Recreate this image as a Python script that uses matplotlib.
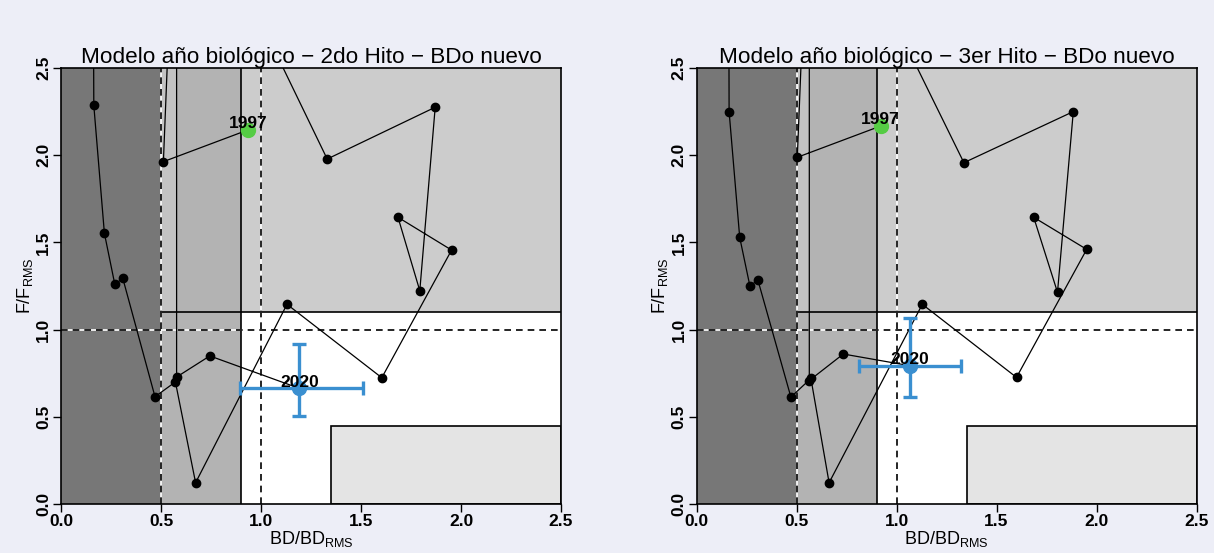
import numpy as np
import matplotlib.pyplot as plt
from matplotlib.patches import Rectangle

plt.rcParams['font.family'] = ['Liberation Sans', 'DejaVu Sans']
plt.rcParams['mathtext.fontset'] = 'custom'
plt.rcParams['mathtext.rm'] = 'Liberation Sans'

titles = ["Modelo año biológico − 2do Hito − BDo nuevo",
          "Modelo año biológico − 3er Hito − BDo nuevo"]

# trayectoria BD/BDrms y F/Frms (1997 -> 2020); valores > 2.5 quedan fuera del grafico
bd_2do = [0.935, 0.512, 0.575, 1.331, 1.871, 1.794, 1.685, 1.953, 1.604, 1.130, 0.673,
          0.572, 0.470, 0.309, 0.269, 0.217, 0.164, 0.160, 0.578, 0.578, 0.744, 1.192]
f_2do = [2.145, 1.963, 3.770, 1.978, 2.275, 1.223, 1.644, 1.456, 0.724, 1.145, 0.122,
         0.700, 0.615, 1.294, 1.260, 1.552, 2.286, 3.600, 3.600, 0.728, 0.849, 0.663]

bd_3er = [0.920, 0.504, 0.566, 1.337, 1.884, 1.805, 1.686, 1.951, 1.600, 1.129, 0.663,
          0.572, 0.472, 0.307, 0.267, 0.216, 0.163, 0.160, 0.564, 0.564, 0.734, 1.066]
f_3er = [2.167, 1.988, 3.755, 1.957, 2.250, 1.214, 1.644, 1.460, 0.726, 1.145, 0.122,
         0.720, 0.613, 1.284, 1.250, 1.529, 2.250, 3.600, 3.600, 0.708, 0.860, 0.793]

# intervalos del ultimo anio (min, max)
bd_ic_2do = (0.895, 1.508)
f_ic_2do = (0.505, 0.917)
bd_ic_3er = (0.810, 1.322)
f_ic_3er = (0.615, 1.068)

anio_ini, anio_fin = "1997", "2020"
franja = [0.575, 0.564]

datos = [(bd_2do, f_2do, bd_ic_2do, f_ic_2do),
         (bd_3er, f_3er, bd_ic_3er, f_ic_3er)]

bg = '#edeef7'
fig = plt.figure(figsize=(12.14, 5.53), dpi=100, facecolor=bg)
lefts = [61 / 1214, 696.5 / 1214]

for i, (bd, f, bdic, fic) in enumerate(datos):
    ax = fig.add_axes([lefts[i], 49 / 553, 500 / 1214, 436 / 553])
    ax.set_xlim(0, 2.5)
    ax.set_ylim(0, 2.5)

    # zonas
    ax.add_patch(Rectangle((0.5, 1.1), 2.0, 1.4, fc='#cccccc', ec='none', zorder=0))
    ax.add_patch(Rectangle((0, 0), 0.5, 2.5, fc='#777777', ec='none', zorder=0.5))
    ax.add_patch(Rectangle((0.5, 0), 0.4, 2.5, fc='#b3b3b3', ec='none', zorder=0.5))
    ax.add_patch(Rectangle((0.5, 1.1), franja[i] - 0.5, 1.4, fc='#c3c3c3', ec='none', zorder=0.6))
    ax.add_patch(Rectangle((1.35, 0), 1.15, 0.45, fc='#e4e4e4', ec='black', lw=1.2, zorder=1))
    ax.plot([0.9, 0.9], [0, 2.5], color='black', lw=1.2, zorder=1)
    ax.plot([0.5, 2.5], [1.1, 1.1], color='black', lw=1.2, zorder=1)

    # referencias
    for xs, ys in [([0.5, 0.5], [0, 2.5]), ([1.0, 1.0], [0, 2.5]), ([0, 2.5], [1.0, 1.0])]:
        ax.plot(xs, ys, color='white', lw=1.2, zorder=1.5)
        ax.plot(xs, ys, color='black', lw=1.2, ls=(0, (4, 3)), zorder=1.6)

    ax.plot(bd, f, color='black', lw=0.9, marker='o', ms=6, zorder=3)
    ax.plot(bd[0], f[0], 'o', color='#55cc44', ms=10, zorder=4)
    ax.errorbar(bd[-1], f[-1],
                xerr=[[bd[-1] - bdic[0]], [bdic[1] - bd[-1]]],
                yerr=[[f[-1] - fic[0]], [fic[1] - f[-1]]],
                fmt='o', color='#3a8fd0', ms=10, elinewidth=2.4, capsize=5,
                capthick=2.4, zorder=4)
    ax.annotate(anio_ini, (bd[0], f[0]), xytext=(0, -1), textcoords='offset points',
                ha='center', va='bottom', fontsize=12.5, fontweight='bold', zorder=5)
    ax.annotate(anio_fin, (bd[-1], f[-1]), xytext=(0, -1), textcoords='offset points',
                ha='center', va='bottom', fontsize=12.5, fontweight='bold', zorder=5)

    ax.set_title(titles[i], fontsize=16.2, pad=2)
    ax.set_xlabel(r'BD/BD$_{\mathrm{RMS}}$', fontsize=13, labelpad=0)
    ax.set_ylabel(r'F/F$_{\mathrm{RMS}}$', fontsize=13, labelpad=1)
    ticks = np.arange(0, 2.51, 0.5)
    ax.set_xticks(ticks)
    ax.set_yticks(ticks)
    ax.set_xticklabels(['%.1f' % t for t in ticks], fontweight='bold', fontsize=12.5)
    ax.set_yticklabels(['%.1f' % t for t in ticks], fontweight='bold', fontsize=12.5,
                       rotation=90, va='center')
    ax.tick_params(length=6, width=1, pad=1)
    for sp in ax.spines.values():
        sp.set_linewidth(1.2)

fig.savefig('out.png', dpi=100, facecolor=bg)
